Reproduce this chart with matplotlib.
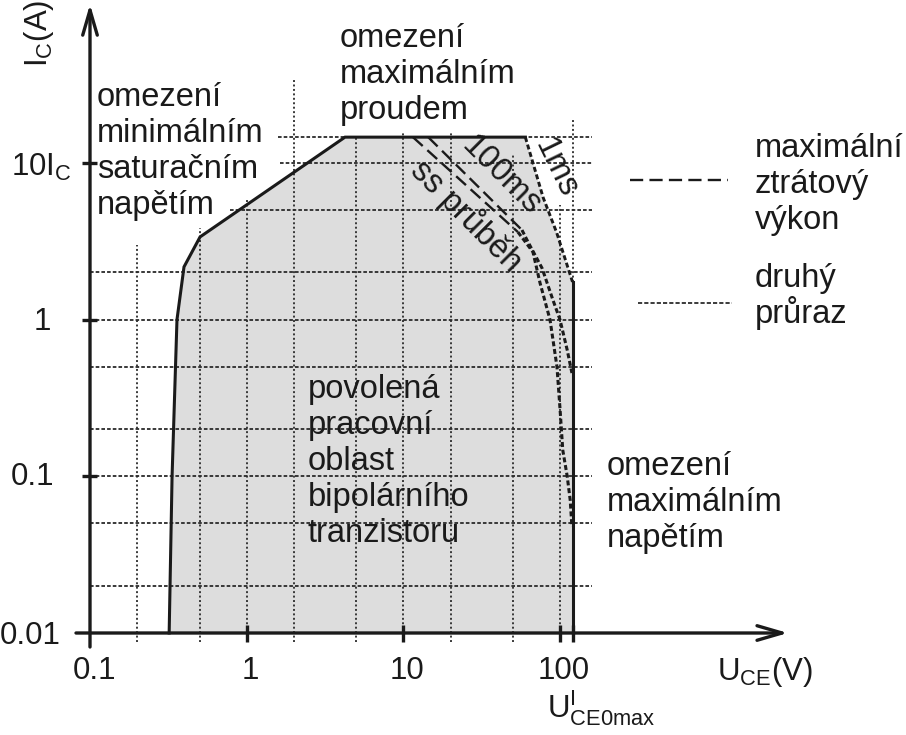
import matplotlib
matplotlib.use("Agg")
import matplotlib.pyplot as plt
from matplotlib.lines import Line2D

plt.rcParams['font.family'] = ['Liberation Sans', 'DejaVu Sans']
plt.rcParams['mathtext.fontset'] = 'custom'
plt.rcParams['mathtext.rm'] = 'Liberation Sans'
plt.rcParams['mathtext.it'] = 'Liberation Sans:italic'
plt.rcParams['lines.scale_dashes'] = False

W, H = 906, 735
DEC = 156.7          # pixels per decade, both axes
X0_PX, Y0_PX = 90, 633   # where U=0.1 V and I=0.01 A sit

# --- data: U_CE in V, I_C in A ---
# outline of the safe operating area (left + top part)
soa_u = [0.32, 0.334, 0.359, 0.398, 0.504, 4.24, 60]
soa_i = [0.01, 0.1, 1.0, 2.17, 3.37, 14.6, 14.6]
# 1 ms pulse limit
ms1_u = [60, 78, 95, 120]
ms1_i = [14.6, 6.0, 3.6, 1.74]
u_max = 120
# maximum power dissipation (dashed)
ss_pow_u = [11.5, 53.8]
ss_pow_i = [14.6, 3.62]
ms100_pow_u = [14.4, 57.1]
ms100_pow_i = [14.6, 3.73]
# second breakdown (fine dashes)
ss_sb_u = [53.8, 67.1, 74.5, 86.2, 95.5, 100, 104, 111, 116, 119]
ss_sb_i = [3.62, 2.70, 1.71, 1.0, 0.50, 0.265, 0.147, 0.1, 0.0706, 0.0475]
ms100_sb_u = [57.1, 62.4, 76.7, 90.1, 99.8, 111, 119]
ms100_sb_i = [3.73, 3.13, 2.13, 1.33, 1.0, 0.64, 0.456]

# grid pieces
grid_u = [0.2, 0.5, 1, 2, 5, 10, 20, 50, 100, 120]
grid_u_top = [3.0, 3.84, 5.8, 33.8, 14.6, 15.5, 15.5, 11.2, 5.4, 19.4]
grid_i = [0.02, 0.05, 0.1, 0.2, 0.5, 1, 2, 5, 10, 14.6]
grid_i_left = [0.1, 0.1, 0.1, 0.1, 0.1, 0.1, 0.1, 0.78, 1.63, 1.58]
grid_right = 160

xticks = [1, 10, 100, u_max]
yticks = [0.1, 1, 10]
xlab_u = [0.1, 1, 10, 100]
xlab_txt = ['0.1', '1', '10', '100']

fig = plt.figure(figsize=(W / 100, H / 100), dpi=100)
ax = fig.add_axes([0, 0, 1, 1])
ax.set_xscale('log')
ax.set_yscale('log')
ax.set_xlim(0.1 * 10 ** (-X0_PX / DEC), 0.1 * 10 ** ((W - X0_PX) / DEC))
ax.set_ylim(0.01 * 10 ** ((Y0_PX - H) / DEC), 0.01 * 10 ** (Y0_PX / DEC))
ax.axis('off')


def px(x, y):
    return x / W, 1 - y / H


# filled area
fill_u = soa_u + ms1_u[1:] + [u_max]
fill_i = soa_i + ms1_i[1:] + [0.01]
ax.fill(fill_u, fill_i, color='#dddddd', lw=0, zorder=1)

# grid
ax.vlines(grid_u, 0.0087, grid_u_top, colors='#2a2a2a', lw=1.3,
          linestyles=[(0, (1.4, 1.8))], zorder=2)
ax.hlines(grid_i, grid_i_left, grid_right, colors='#2a2a2a', lw=1.3,
          linestyles=[(0, (2.6, 1.5))], zorder=2)

k = '#1a1a1a'
ax.plot(soa_u, soa_i, color=k, lw=2.2, zorder=4, solid_joinstyle='miter')
ax.plot([u_max, u_max], [0.01, ms1_i[-1]], color=k, lw=2.2, zorder=4)

big_dash = (0, (9.5, 4.5))
small_dash = (0, (3.6, 2.0))
ax.plot(ms1_u, ms1_i, color=k, lw=2.1, ls=small_dash, zorder=4)
ax.plot(ss_pow_u, ss_pow_i, color=k, lw=1.7, ls=big_dash, zorder=4)
ax.plot(ms100_pow_u, ms100_pow_i, color=k, lw=1.7, ls=big_dash, zorder=4)
ax.plot(ss_sb_u, ss_sb_i, color=k, lw=2.2, ls=small_dash, zorder=4)
ax.plot(ms100_sb_u, ms100_sb_i, color=k, lw=2.2, ls=small_dash, zorder=4)

# axes with arrows
arr = dict(arrowstyle='->,head_length=1.2,head_width=0.35', lw=2.4,
           color=k, mutation_scale=15, shrinkA=0, shrinkB=0)
ax.annotate('', xy=(2846, 0.01), xytext=(0.0814, 0.01), arrowprops=arr, zorder=5)
ax.annotate('', xy=(0.1, 103), xytext=(0.1, 0.00814), arrowprops=arr, zorder=5)
ax.vlines(xticks, 0.01 / 1.14, 0.01 * 1.125, colors=k, lw=2.4, zorder=5)
ax.hlines(yticks, 0.1 / 1.125, 0.1 * 1.11, colors=k, lw=2.4, zorder=5)

fs = 23.5
tfs = 22.5

# tick labels
for u, t in zip(xlab_u, xlab_txt):
    ax.annotate(t, xy=(u, 0.01), xytext=(4, -38), textcoords='offset pixels',
                ha='center', va='center', fontsize=tfs, color=k)
for (x, y), t in zip([(30, 636), (33, 477), (42, 322)], ['0.01', '0.1', '1']):
    fig.text(*px(x, y), t, ha='center', va='center', fontsize=tfs, color=k)
fig.text(*px(72, 167), r'10I$_\mathrm{C}$', ha='right', va='center',
         fontsize=tfs, color=k)
fig.text(*px(39, 33), r'I$_\mathrm{C}$(A)', ha='center', va='center',
         fontsize=tfs, rotation=90, color=k)
fig.text(*px(765, 672), r'U$_\mathrm{CE}$(V)', ha='center', va='center',
         fontsize=tfs, color=k)
fig.text(*px(547, 718), r'U$^\mathrm{I}_\mathrm{CE0max}$', ha='left',
         va='baseline', fontsize=tfs, color=k)


def block(x, y0, lines, dy=36):
    for n, s in enumerate(lines):
        fig.text(*px(x, y0 + n * dy), s, ha='left', va='baseline',
                 fontsize=fs, color=k)


block(97, 106, ['omezení', 'minimálním', 'saturačním', 'napětím'])
block(340, 47, ['omezení', 'maximálním', 'proudem'])
block(308, 398, ['povolená', 'pracovní', 'oblast', 'bipolárního', 'tranzistoru'])
block(607, 475, ['omezení', 'maximálním', 'napětím'])
block(755, 157, ['maximální', 'ztrátový', 'výkon'])
block(755, 287, ['druhý', 'průraz'])

fig.text(*px(501, 176), '100ms', ha='center', va='center', fontsize=fs,
         rotation=-45, rotation_mode='anchor', color=k)
fig.text(*px(467, 216), 'ss průběh', ha='center', va='center', fontsize=fs,
         rotation=-45, rotation_mode='anchor', color=k)
fig.text(*px(556, 168), '1ms', ha='center', va='center', fontsize=fs,
         rotation=-64, rotation_mode='anchor', color=k)

# legend samples
fig.add_artist(Line2D([630 / W, 728 / W], [1 - 180 / H] * 2, color=k,
                      lw=1.7, ls=big_dash))
fig.add_artist(Line2D([638 / W, 732 / W], [1 - 303 / H] * 2, color=k, lw=1.2,
                      ls=(0, (3.0, 1.5))))

fig.savefig('out.png', dpi=100)
